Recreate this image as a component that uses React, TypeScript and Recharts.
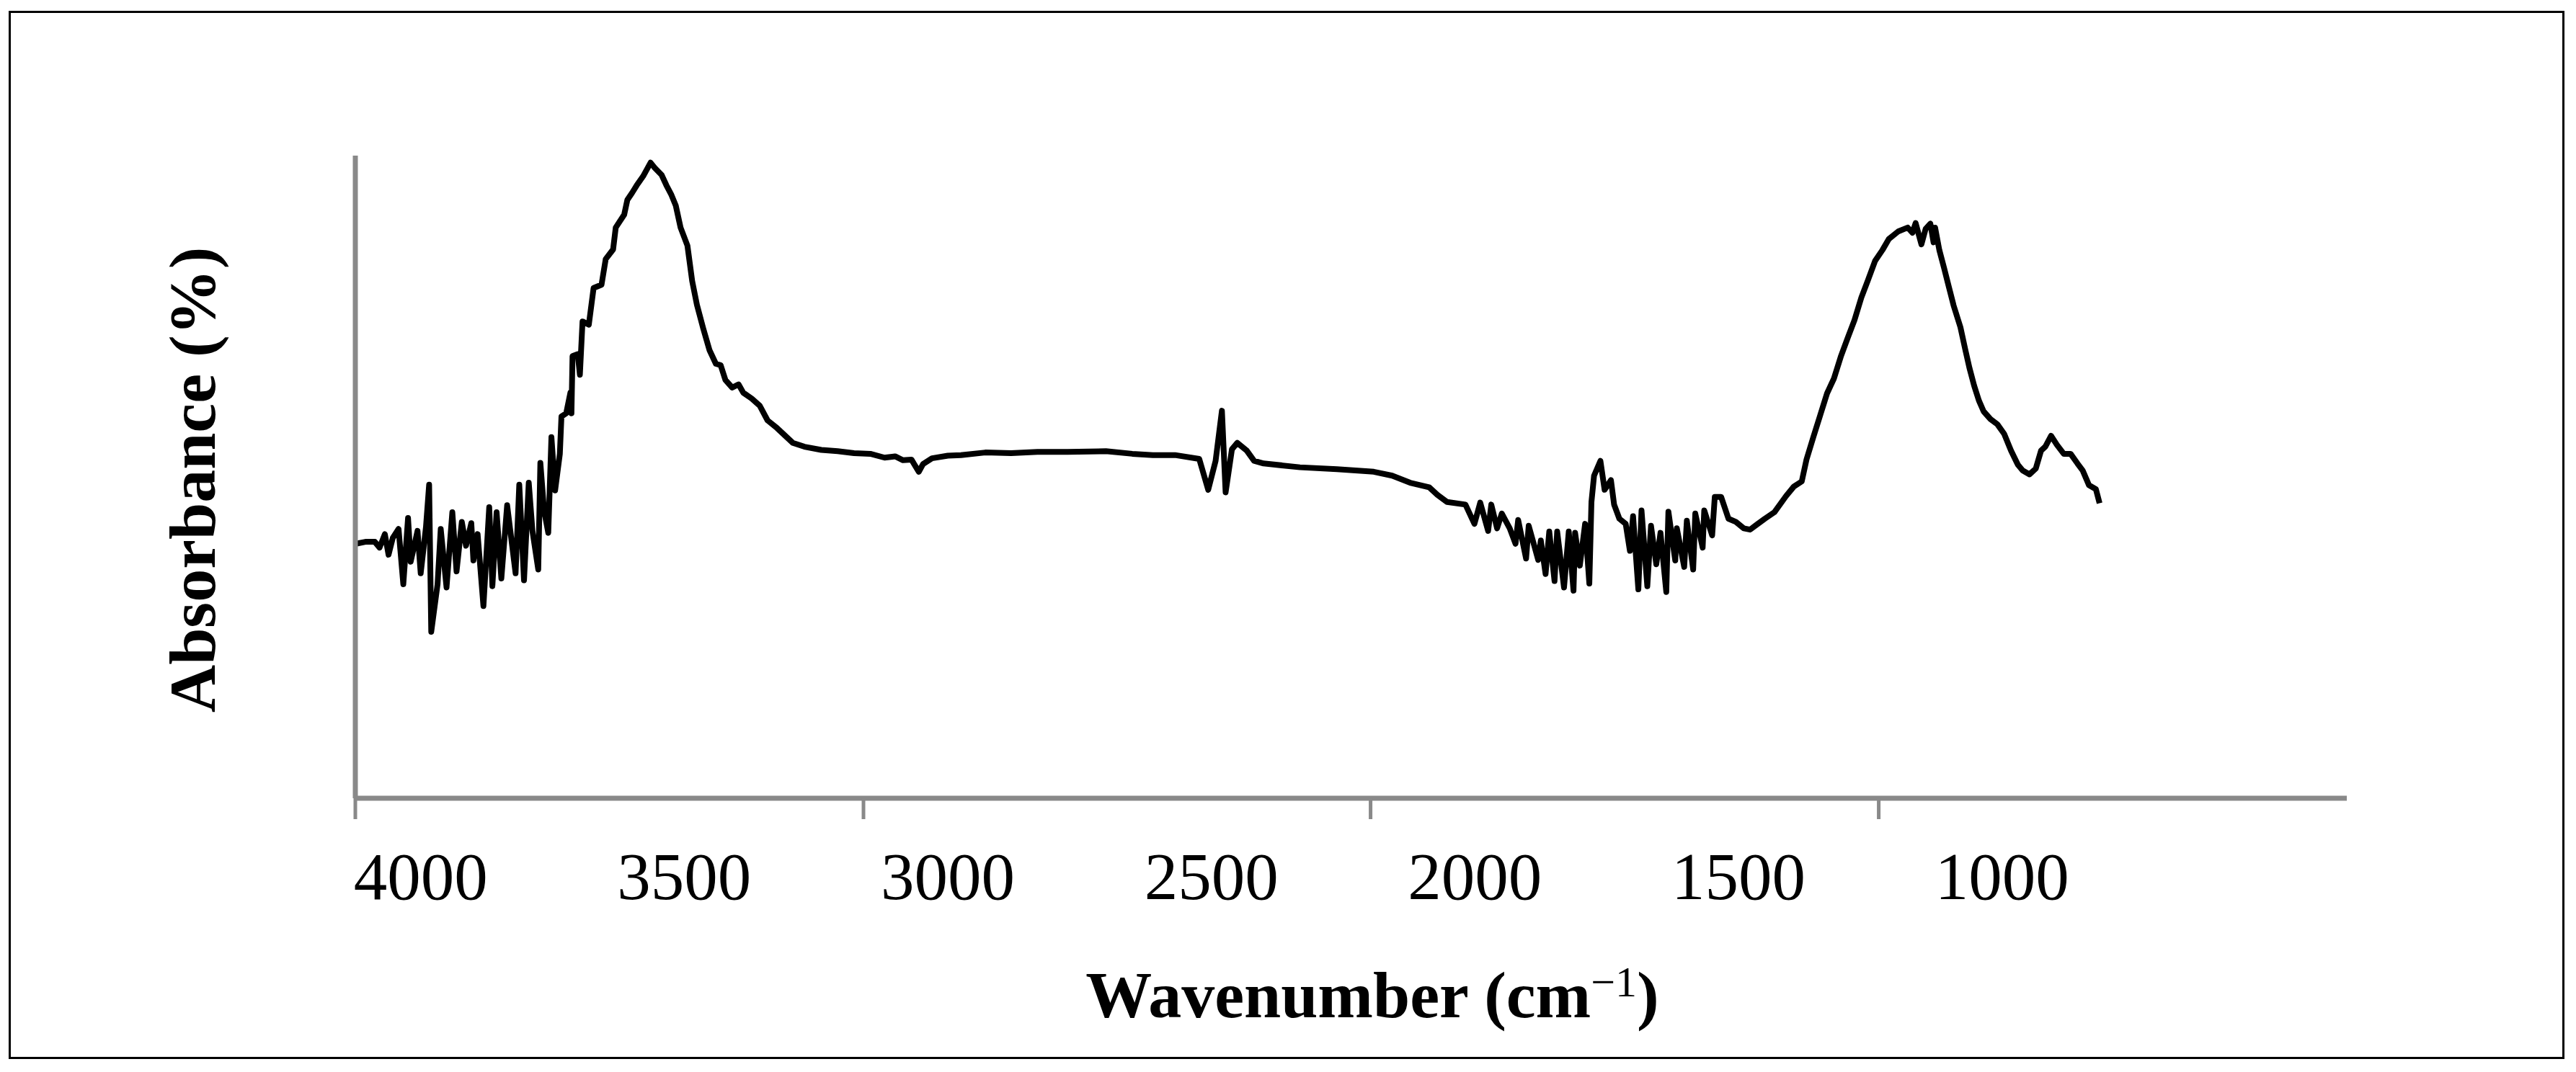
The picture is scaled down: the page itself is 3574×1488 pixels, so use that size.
import { Line, LineChart, XAxis, YAxis } from 'recharts';

const AXIS_GRAY = '#898989';
const SERIF = '"Liberation Serif", "Times New Roman", serif';

// wavenumber (cm-1) as implied by the printed labels, absorbance in arbitrary 0-100 units
const WAVENUMBER_DOMAIN = [346, 4124];
const TICK_MARKS = [4124, 3160, 2198, 1234];
const TICK_LABELS = [4000, 3500, 3000, 2500, 2000, 1500, 1000];

const WAVENUMBER = [
  4123, 4105, 4087, 4078, 4068, 4061, 4053, 4042, 4033, 4024, 4019, 4006, 4000, 3990, 3984, 3980,
  3968, 3962, 3951, 3940, 3932, 3922, 3914, 3904, 3900, 3892, 3881, 3870, 3864, 3856, 3847, 3836,
  3820, 3813, 3804, 3795, 3788, 3777, 3773, 3766, 3758, 3752, 3745, 3736, 3733, 3724, 3716, 3714,
  3712, 3702, 3698, 3693, 3681, 3672, 3657, 3649, 3635, 3630, 3614, 3608, 3599, 3590, 3578, 3564,
  3556, 3543, 3534, 3525, 3516, 3507, 3494, 3485, 3476, 3464, 3452, 3440, 3431, 3422, 3409, 3397,
  3388, 3372, 3357, 3342, 3324, 3294, 3272, 3240, 3209, 3178, 3147, 3120, 3100, 3085, 3069, 3055,
  3047, 3030, 3000, 2975, 2929, 2880, 2830, 2773, 2700, 2650, 2611, 2569, 2523, 2506, 2492, 2480,
  2473, 2461, 2451, 2433, 2419, 2401, 2332, 2262, 2192, 2157, 2123, 2087, 2071, 2053, 2018, 2001,
  1990, 1975, 1969, 1958, 1949, 1934, 1923, 1918, 1903, 1898, 1880, 1875, 1866, 1859, 1849, 1844,
  1831, 1822, 1813, 1810, 1801, 1791, 1783, 1779, 1774, 1762, 1754, 1742, 1736, 1726, 1714, 1706,
  1700, 1690, 1684, 1673, 1666, 1656, 1648, 1637, 1633, 1620, 1617, 1603, 1598, 1586, 1582, 1568,
  1565, 1550, 1545, 1533, 1519, 1505, 1490, 1478, 1465, 1450, 1432, 1410, 1395, 1380, 1371, 1358,
  1345, 1332, 1319, 1306, 1293, 1280, 1267, 1254, 1241, 1227, 1215, 1197, 1179, 1170, 1164, 1153,
  1145, 1136, 1130, 1127, 1119, 1110, 1101, 1092, 1079, 1070, 1062, 1053, 1044, 1035, 1022, 1009,
  996, 983, 970, 961, 948, 936, 926, 918, 907, 896, 883, 870, 857, 847, 835, 822, 815,
];

const ABSORBANCE = [
  39.6, 39.9, 39.9, 39.0, 41.1, 37.9, 40.5, 41.9, 33.3, 43.6, 36.8, 41.6, 35.0, 42.2, 48.8, 25.9,
  33.3, 41.9, 32.8, 44.5, 35.3, 43.0, 39.3, 42.8, 37.0, 41.1, 29.9, 45.3, 33.0, 44.5, 34.2, 45.6,
  35.0, 48.8, 33.9, 49.1, 41.6, 35.6, 52.2, 44.8, 41.3, 56.2, 47.9, 53.6, 59.4, 59.9, 63.1, 59.9,
  68.8, 69.1, 65.9, 74.2, 73.7, 79.4, 79.9, 83.9, 85.4, 88.8, 90.8, 93.1, 94.2, 95.4, 96.8, 98.9,
  98.1, 97.0, 95.4, 94.0, 92.2, 88.8, 86.0, 80.5, 76.8, 73.1, 69.7, 67.6, 67.4, 65.1, 63.9, 64.4,
  63.1, 62.2, 61.1, 58.8, 57.6, 55.3, 54.7, 54.2, 54.0, 53.7, 53.6, 53.0, 53.2, 52.6, 52.7, 50.8,
  52.0, 52.9, 53.3, 53.4, 53.8, 53.7, 53.9, 53.9, 54.0, 53.6, 53.4, 53.4, 52.8, 48.0, 52.5, 60.3,
  47.6, 54.3, 55.3, 54.1, 52.5, 52.1, 51.5, 51.2, 50.8, 50.2, 49.1, 48.4, 47.2, 46.1, 45.7, 42.7,
  46.0, 41.6, 45.7, 42.0, 44.3, 42.0, 39.6, 43.3, 37.3, 42.4, 37.1, 40.1, 34.9, 41.5, 33.8, 41.5,
  32.8, 41.5, 32.3, 41.3, 36.2, 42.7, 33.4, 46.1, 50.2, 52.5, 48.0, 49.5, 45.7, 43.5, 42.7, 38.5,
  43.9, 32.5, 44.8, 33.0, 42.4, 36.4, 41.3, 32.1, 44.6, 37.0, 42.0, 36.0, 43.2, 35.6, 44.3, 39.0,
  44.8, 40.9, 46.9, 46.9, 43.5, 43.0, 42.0, 41.8, 42.6, 43.5, 44.5, 47.0, 48.5, 49.3, 52.7, 56.2,
  59.6, 63.0, 65.3, 68.7, 71.6, 74.4, 77.9, 80.7, 83.6, 85.3, 87.0, 88.2, 88.8, 88.0, 89.5, 86.2,
  88.6, 89.4, 86.5, 88.8, 85.3, 82.5, 79.6, 76.7, 73.3, 69.9, 67.0, 64.2, 61.9, 60.2, 59.0, 58.2,
  56.7, 54.1, 51.9, 51.0, 50.4, 51.3, 54.1, 54.7, 56.4, 55.0, 53.6, 53.6, 52.1, 51.0, 48.7, 48.1, 45.9,
];

const spectrum = WAVENUMBER.map((w, i) => ({ w, v: ABSORBANCE[i] }));

function TickLabel({ x, payload }: any) {
  return (
    <text x={x} y={1248} textAnchor="middle" fill="#000" style={{ fontFamily: SERIF, fontSize: 93 }}>
      {payload.value}
    </text>
  );
}

// tick marks only, the printed numbers sit on the other axis
function NoLabel() {
  return <g />;
}

function XTitle() {
  return (
    <text x={1904} y={1412} textAnchor="middle" fill="#000" style={{ fontFamily: SERIF, fontSize: 92, fontWeight: 'bold' }}>
      Wavenumber (cm
      <tspan dy={-29} style={{ fontSize: 60, fontWeight: 'normal' }}>−1</tspan>
      <tspan dy={29}>)</tspan>
    </text>
  );
}

function YTitle() {
  return (
    <text
      x={298}
      y={666}
      transform="rotate(-90, 298, 666)"
      textAnchor="middle"
      fill="#000"
      style={{ fontFamily: SERIF, fontSize: 92, fontWeight: 'bold' }}
    >
      Absorbance (%)
    </text>
  );
}

export default function App() {
  return (
    <div style={{ position: 'absolute', left: 0, top: 0, width: 3574, height: 1488, background: '#fff' }}>
      <div
        style={{
          position: 'absolute',
          left: 12,
          top: 15,
          width: 3546,
          height: 1455,
          border: '3.5px solid #000',
          boxSizing: 'border-box',
        }}
      />
      <div style={{ position: 'absolute', left: 0, top: 0 }}>
        <LineChart width={3574} height={1488} data={spectrum} margin={{ top: 216, right: 318, bottom: 200, left: 483 }}>
          <XAxis
            xAxisId="b"
            dataKey="w"
            type="number"
            domain={WAVENUMBER_DOMAIN}
            reversed
            allowDataOverflow
            ticks={TICK_LABELS}
            interval={0}
            tick={<TickLabel />}
            tickLine={false}
            axisLine={false}
            height={150}
            label={<XTitle />}
          />
          <XAxis
            xAxisId="a"
            dataKey="w"
            type="number"
            domain={WAVENUMBER_DOMAIN}
            reversed
            allowDataOverflow
            ticks={TICK_MARKS}
            interval={0}
            tick={<NoLabel />}
            tickSize={29}
            height={30}
            axisLine={{ stroke: AXIS_GRAY, strokeWidth: 7 }}
            tickLine={{ stroke: AXIS_GRAY, strokeWidth: 5 }}
          />
          <YAxis
            type="number"
            domain={[0, 100]}
            allowDataOverflow
            width={10}
            tick={false}
            tickLine={false}
            axisLine={{ stroke: AXIS_GRAY, strokeWidth: 7 }}
            label={<YTitle />}
          />
          <Line
            xAxisId="a"
            type="linear"
            dataKey="v"
            stroke="#000"
            strokeWidth={8}
            strokeLinejoin="round"
            dot={false}
            isAnimationActive={false}
          />
        </LineChart>
      </div>
    </div>
  );
}
